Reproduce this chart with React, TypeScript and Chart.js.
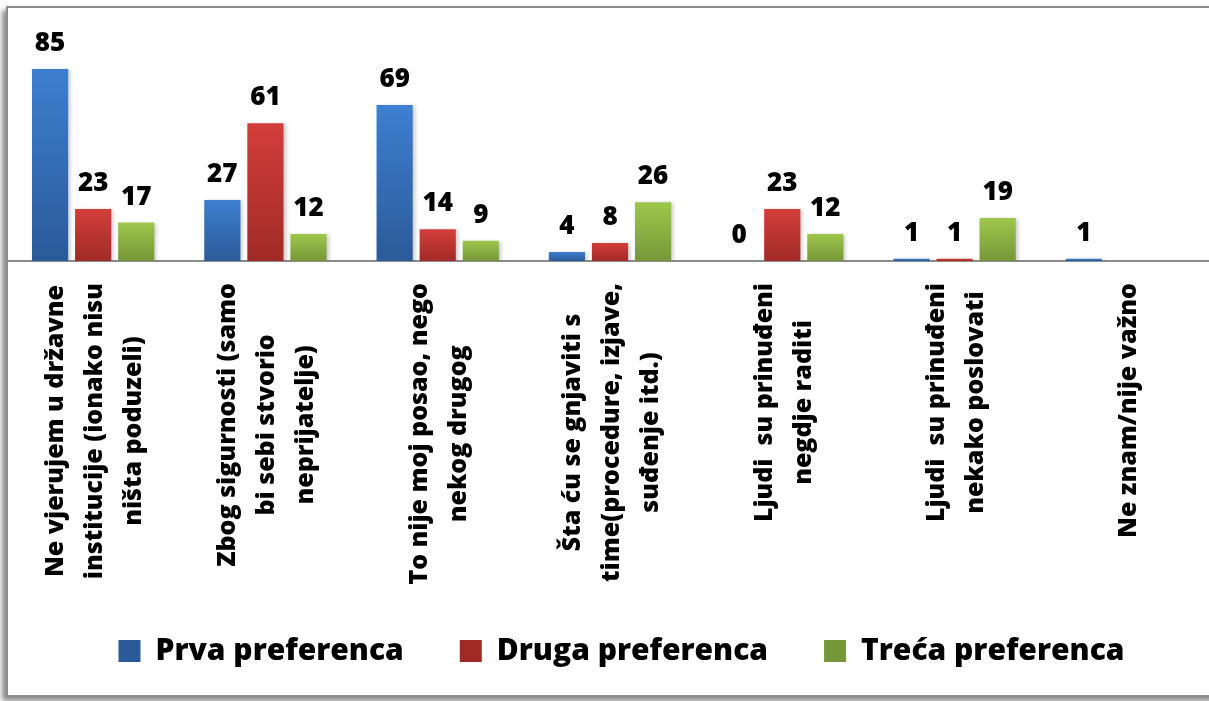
import { useEffect, useRef } from "react";
import { Chart, registerables } from "chart.js";

Chart.register(...registerables);

const categoryLines: string[][] = [
  ["Ne vjerujem u državne", "institucije (ionako nisu", "ništa poduzeli)"],
  ["Zbog sigurnosti (samo", "bi sebi stvorio", "neprijatelje)"],
  ["To nije moj posao, nego", "nekog drugog"],
  ["Šta ću se gnjaviti s", "time(procedure, izjave,", "suđenje itd.)"],
  ["Ljudi  su prinuđeni", "negdje raditi"],
  ["Ljudi  su prinuđeni", "nekako poslovati"],
  ["Ne znam/nije važno"],
];

const seriesNames = ["Prva preferenca", "Druga preferenca", "Treća preferenca"];
const prvaValues: (number | null)[] = [85, 27, 69, 4, 0, 1, 1];
const drugaValues: (number | null)[] = [23, 61, 14, 8, 23, 1, null];
const trecaValues: (number | null)[] = [17, 12, 9, 26, 12, 19, null];

const FONT = '"Open Sans", "Noto Sans", "DejaVu Sans", sans-serif';
const WEIGHT = 800;
const LEGEND_GAP = 56;

const palette = [
  { top: "#3d7fd0", bottom: "#2b5a98" },
  { top: "#d33e3a", bottom: "#a12a27" },
  { top: "#9dc74b", bottom: "#769739" },
];

function barFill(top: string, bottom: string) {
  return (c: any) => {
    const chart = c.chart;
    const ctx = chart.ctx as CanvasRenderingContext2D;
    if (c.type !== "data") {
      const lg = chart.legend;
      if (!lg || lg.top == null) return top;
      const y0 = lg.top + LEGEND_GAP + 4;
      const g = ctx.createLinearGradient(0, y0, 0, y0 + 22);
      g.addColorStop(0, top);
      g.addColorStop(1, bottom);
      return g;
    }
    const area = chart.chartArea;
    const ys = chart.scales && chart.scales.y;
    if (!area || !ys) return top;
    const v = c.raw == null ? 0 : c.raw;
    const y0 = ys.getPixelForValue(v);
    const y1 = ys.getPixelForValue(0);
    if (!isFinite(y0) || !isFinite(y1) || y1 - y0 < 1) return top;
    const g = ctx.createLinearGradient(0, y0, 0, y1);
    g.addColorStop(0, top);
    g.addColorStop(1, bottom);
    return g;
  };
}

const barDecor = {
  id: "barDecor",
  beforeDatasetsDraw(chart: any) {
    const ctx = chart.ctx as CanvasRenderingContext2D;
    ctx.save();
    ctx.shadowColor = "rgba(0,0,0,0.22)";
    ctx.shadowBlur = 4;
    ctx.shadowOffsetX = 2;
    ctx.shadowOffsetY = 1;
  },
  afterDatasetsDraw(chart: any) {
    const ctx = chart.ctx as CanvasRenderingContext2D;
    ctx.restore();
    ctx.save();
    ctx.font = `${WEIGHT} 26px ${FONT}`;
    ctx.fillStyle = "#000";
    ctx.textAlign = "center";
    ctx.textBaseline = "alphabetic";
    chart.data.datasets.forEach((ds: any, i: number) => {
      const meta = chart.getDatasetMeta(i);
      meta.data.forEach((el: any, j: number) => {
        const v = ds.data[j];
        if (v == null || !isFinite(el.x) || !isFinite(el.y)) return;
        ctx.fillText(String(v), el.x, el.y - 18);
      });
    });
    ctx.restore();
  },
};

const categoryLabels = {
  id: "categoryLabels",
  afterDraw(chart: any) {
    const ctx = chart.ctx as CanvasRenderingContext2D;
    const xs = chart.scales.x;
    const top = chart.chartArea.bottom + 22;
    const size = 25;
    const pitch = 39;
    ctx.save();
    ctx.font = `${WEIGHT} ${size}px ${FONT}`;
    ctx.fillStyle = "#000";
    ctx.textAlign = "center";
    ctx.textBaseline = "alphabetic";
    categoryLines.forEach((lines, i) => {
      const cx = xs.getPixelForValue(i);
      const w = Math.max(...lines.map((l) => ctx.measureText(l).width));
      const n = lines.length;
      ctx.save();
      ctx.translate(cx, top);
      ctx.rotate(-Math.PI / 2);
      lines.forEach((l, k) => {
        const v = (k - (n - 1) / 2) * pitch + size * 0.357;
        ctx.fillText(l, -w / 2, v);
      });
      ctx.restore();
    });
    ctx.restore();
  },
};

export default function App() {
  const ref = useRef<HTMLCanvasElement | null>(null);

  useEffect(() => {
    if (!ref.current) return;
    const values = [prvaValues, drugaValues, trecaValues];
    const chart = new Chart(ref.current, {
      type: "bar",
      data: {
        labels: categoryLines.map((l) => l.join(" ")),
        datasets: seriesNames.map((name, i) => ({
          label: name,
          data: values[i],
          backgroundColor: barFill(palette[i].top, palette[i].bottom) as any,
          borderWidth: 0,
          categoryPercentage: 0.75,
          barPercentage: 0.84,
        })),
      },
      options: {
        responsive: false,
        animation: false,
        events: [],
        layout: { padding: { top: 35, left: 7, right: 4, bottom: 25 } },
        scales: {
          x: {
            grid: { display: false },
            ticks: { display: false },
            border: { display: true, color: "#8c8c8c", width: 2 },
            afterFit: (s: any) => {
              s.height = 375 - LEGEND_GAP;
            },
          },
          y: {
            position: "right",
            min: 0,
            max: 100,
            grid: { display: false },
            ticks: { display: false },
            border: { display: false },
            afterFit: (s: any) => {
              s.width = 23;
            },
          },
        },
        plugins: {
          tooltip: { enabled: false },
          legend: {
            position: "bottom",
            labels: {
              boxWidth: 22,
              boxHeight: 22,
              padding: LEGEND_GAP,
              color: "#000",
              font: { family: FONT, size: 30, weight: WEIGHT as any },
            },
          },
        },
      },
      plugins: [barDecor, categoryLabels],
    });
    return () => chart.destroy();
  }, []);

  return (
    <div
      style={{
        position: "absolute",
        left: 0,
        top: 0,
        width: 1209,
        height: 701,
        overflow: "hidden",
        background: "#fff",
      }}
    >
      <div
        style={{
          position: "absolute",
          left: 6,
          top: 6,
          width: 1300,
          height: 691,
          boxSizing: "border-box",
          border: "2px solid #8c8c8c",
          boxShadow: "-4px 4px 5px rgba(0,0,0,0.45)",
          background: "#fff",
        }}
      />
      <canvas
        ref={ref}
        width={1240}
        height={701}
        style={{ position: "absolute", left: 0, top: 0, width: 1240, height: 701 }}
      />
    </div>
  );
}
